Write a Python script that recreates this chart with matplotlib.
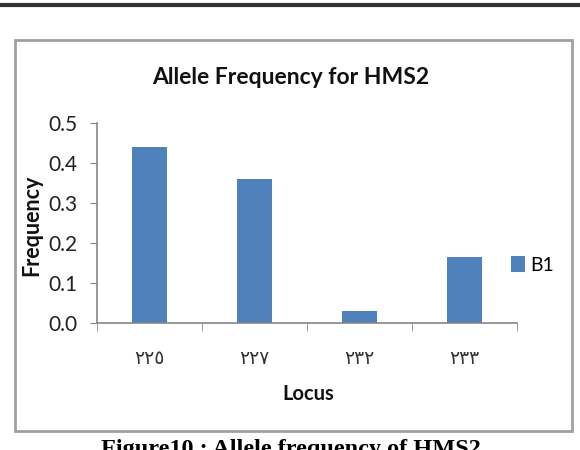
import matplotlib.pyplot as plt
from matplotlib.patches import Rectangle
from matplotlib.lines import Line2D

# data
loci = ['٢٢٥', '٢٢٧', '٢٣٢', '٢٣٣']
freq_b1 = [0.44, 0.36, 0.03, 0.165]
series_name = 'B1'

bar_color = '#4F81BD'
axis_gray = '#868686'

plt.rcParams['font.family'] = ['Lato', 'DejaVu Sans']

fig = plt.figure(figsize=(5.8, 4.5), dpi=100)
W, H = 580, 450

def fx(px): return px / W
def fy(py): return (H - py) / H

# top rule and chart frame
fig.add_artist(Line2D([0, 1], [fy(5), fy(5)], color='#333333', lw=3))
fig.add_artist(Rectangle((fx(15), fy(431)), fx(572) - fx(15), fy(40) - fy(431),
                         fill=False, ec='#a0a0a0', lw=2))

ax = fig.add_axes([fx(97), fy(323), fx(517) - fx(97), fy(123) - fy(323)])
x = range(len(loci))
ax.bar(x, freq_b1, width=0.33, color=bar_color, label=series_name)

ax.set_xlim(-0.5, len(loci) - 0.5)
ax.set_ylim(0, 0.5)
ax.set_yticks([0, 0.1, 0.2, 0.3, 0.4, 0.5])
ax.set_yticklabels(['0.0', '0.1', '0.2', '0.3', '0.4', '0.5'], fontsize=15, color='#222222')
ax.set_xticks(list(x))
ax.set_xticklabels(loci, fontsize=13.5, color='#333333', family=['DejaVu Sans'])
ax.set_xticks([i - 0.5 for i in range(len(loci) + 1)], minor=True)
ax.tick_params(axis='x', which='major', length=0, pad=19)
ax.tick_params(axis='x', which='minor', length=6, color=axis_gray, direction='out')
ax.tick_params(axis='y', length=5, color=axis_gray, pad=9)

for s in ['top', 'right']:
    ax.spines[s].set_visible(False)
for s in ['left', 'bottom']:
    ax.spines[s].set_color(axis_gray)
    ax.spines[s].set_linewidth(1.2)

fig.text(fx(291), fy(78), 'Allele Frequency for HMS2', ha='center', va='center',
         fontsize=16.5, fontweight='bold', color='#111111')
fig.text(fx(32), fy(225), 'Frequency', ha='center', va='center', rotation=90,
         fontsize=15.5, fontweight='bold', color='#111111')
fig.text(fx(308), fy(394), 'Locus', ha='center', va='center',
         fontsize=14.5, fontweight='bold', color='#111111')

ax.legend(loc='center left', bbox_to_anchor=(fx(511), fy(265)),
          bbox_transform=fig.transFigure, frameon=False, fontsize=14,
          handlelength=0.7, handleheight=0.9, handletextpad=0.3,
          borderpad=0, borderaxespad=0)

fig.text(fx(291), fy(439), 'Figure10 : Allele frequency of HMS2', ha='center', va='top',
         fontsize=17.5, fontweight='bold', family=['Liberation Serif'])

plt.savefig('out.png', dpi=100)
